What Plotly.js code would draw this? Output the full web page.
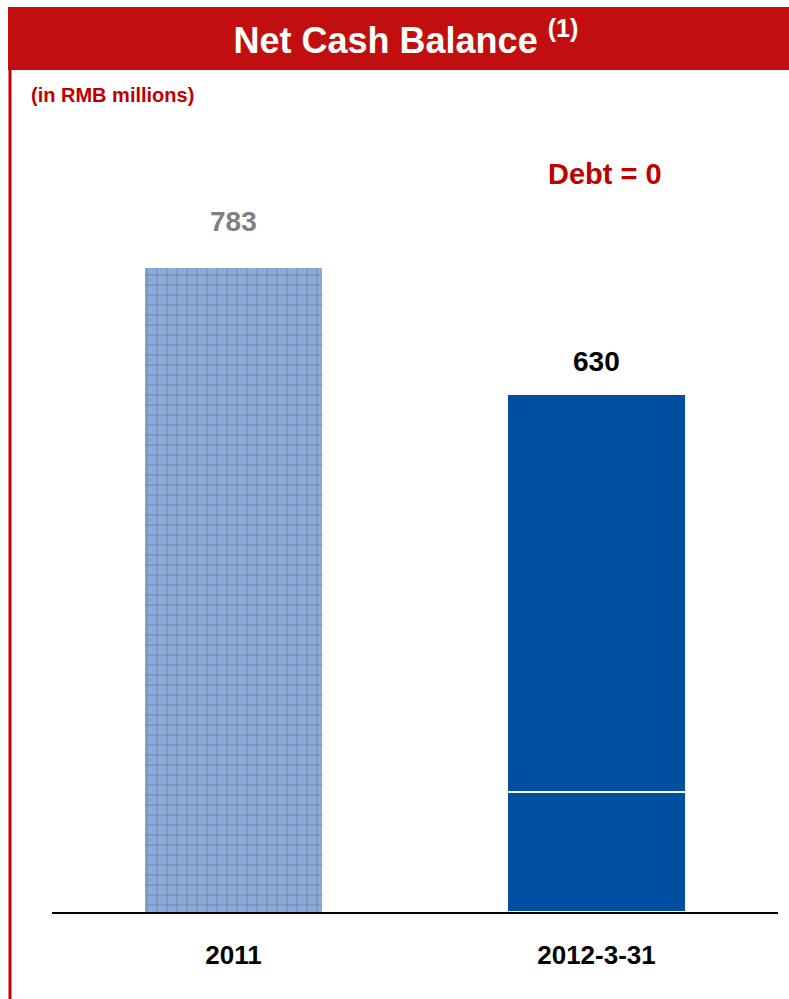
<!DOCTYPE html>
<html>
<head>
<meta charset="utf-8">
<script src="https://cdn.plot.ly/plotly-3.0.1.min.js"></script>
<style>html,body{margin:0;padding:0;background:#fff;}#chart{width:789px;height:999px;}</style>
</head>
<body>
<div id="chart"></div>
<script>
const categories = ["2011", "2012-3-31"];
const totals = [783, 630];
const lowerSegment = [0, 146];
const upperSegment = [783, 484];
const valueLabels = ["783", "630"];
const labelColors = ["#808080", "#000000"];

const W = 789, H = 999;
const L = 52, R = 11, T = 100, B = 87;
const pw = W - L - R, ph = H - T - B;
const px = x => (x - L) / pw;
const py = y => (H - B - y) / ph;
const FONT = "Liberation Sans, Arial, sans-serif";

function barTrace(vals) {
  return {
    type: "bar", x: categories, y: vals, width: 0.49,
    marker: {color: ["#8AAADA", "#004EA2"],
             line: {color: ["rgba(0,0,0,0)", "#ffffff"], width: 1.5},
             pattern: {shape: ["+", ""], fillmode: "overlay", fgcolor: "#1F5BC4", size: 10, solidity: 0.13}},
    hoverinfo: "skip", showlegend: false
  };
}

const shifts = [46, 32];
const annotations = categories.map((c, i) => ({
  x: i, y: totals[i], xref: "x", yref: "y", text: "<b>" + valueLabels[i] + "</b>",
  showarrow: false, yanchor: "middle", yshift: shifts[i],
  font: {family: FONT, size: 28, color: labelColors[i]}
}));
annotations.push({
  xref: "paper", yref: "paper", x: px(605), y: py(174), text: "<b>Debt = 0</b>",
  showarrow: false, xanchor: "center", yanchor: "middle",
  font: {family: FONT, size: 29, color: "#C00000"}
});
annotations.push({
  xref: "paper", yref: "paper", x: px(29), y: py(95), text: "<b>(in RMB millions)</b>",
  showarrow: false, xanchor: "left", yanchor: "middle",
  font: {family: FONT, size: 20, color: "#C00000"}
});

const layout = {
  width: W, height: H,
  margin: {l: L, r: R, t: T, b: B},
  paper_bgcolor: "#ffffff", plot_bgcolor: "#ffffff",
  barmode: "stack",
  title: {text: "<b>Net Cash Balance </b><sup><b>(1)</b></sup>", xref: "paper", x: px(406), xanchor: "center",
          yref: "container", y: 1 - 40 / H, yanchor: "middle",
          font: {family: FONT, size: 36, color: "#ffffff"}},
  xaxis: {type: "category", range: [-0.5, 1.5], showline: true, linecolor: "#000000", linewidth: 1.5,
          ticks: "", ticklabelstandoff: 19, showgrid: false, zeroline: false,
          tickfont: {family: FONT, size: 26, color: "#000000", weight: "bold"}},
  yaxis: {range: [0, 987.2], visible: false, showgrid: false, zeroline: false},
  shapes: [
    {type: "rect", xref: "paper", yref: "paper", x0: px(8), x1: px(789), y0: py(70), y1: py(7),
     fillcolor: "#C20E0E", line: {width: 0}, layer: "below"},
    {type: "line", xref: "paper", yref: "paper", x0: px(10), x1: px(10), y0: py(70), y1: py(999),
     line: {color: "#C00000", width: 3}}
  ],
  annotations: annotations
};

Plotly.newPlot("chart", [barTrace(lowerSegment), barTrace(upperSegment)], layout, {staticPlot: true, displayModeBar: false});
</script>
</body>
</html>
